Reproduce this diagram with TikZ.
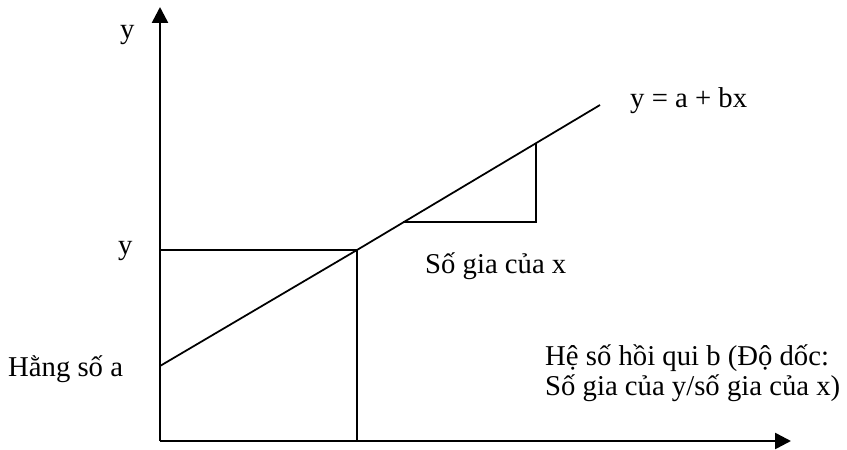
\documentclass[tikz,border=0pt]{standalone}
\usepackage{fontspec}
\setmainfont{Liberation Serif}
\usetikzlibrary{arrows.meta}

\begin{document}
\begin{tikzpicture}[x=0.03cm, y=-0.03cm,
    every node/.style={font=\fontsize{24.5}{25.6}\selectfont, inner sep=0pt},
    axis/.style={line width=2.2pt, -{Triangle[length=13.5pt, width=13.5pt]}},
    guide/.style={line width=1.5pt}]
    \useasboundingbox (0,0) rectangle (847,449);
    % axes
    \coordinate (o) at (160,441);
    \coordinate (ytop) at (160,7);
    \coordinate (xend) at (791,441);
    \draw[axis] (o) -- (ytop);
    \draw[axis] (o) -- (xend);
    % regression line
    \coordinate (a) at (160,366);
    \coordinate (p) at (357,250);
    \coordinate (lend) at (600,105);
    \coordinate (py) at (160,250);
    \coordinate (px) at (357,441);
    \draw[guide] (a) -- (p) -- (lend);
    \draw[guide] (py) -- (p) -- (px);
    % increment triangle
    \coordinate (t1) at (403,222);
    \coordinate (t2) at (536,222);
    \coordinate (t3) at (536,143.5);
    \draw[guide] (t1) -- (t2) -- (t3);
    % labels
    \node[anchor=base west] (ytxt) at (120,38) {y};
    \node[anchor=base west] (yval) at (118,254) {y};
    \node[anchor=base west] (hang) at (8,376) {Hằng số a};
    \node[anchor=base west] (dx) at (425,273) {Số gia của x};
    \node[anchor=base west] (eq) at (630,107) {y = a + bx};
    \node[anchor=base west, align=left] (slope) at (545,395) {Hệ số hồi qui b (Độ dốc:\\ Số gia của y/số gia của x)};
\end{tikzpicture}
\end{document}
